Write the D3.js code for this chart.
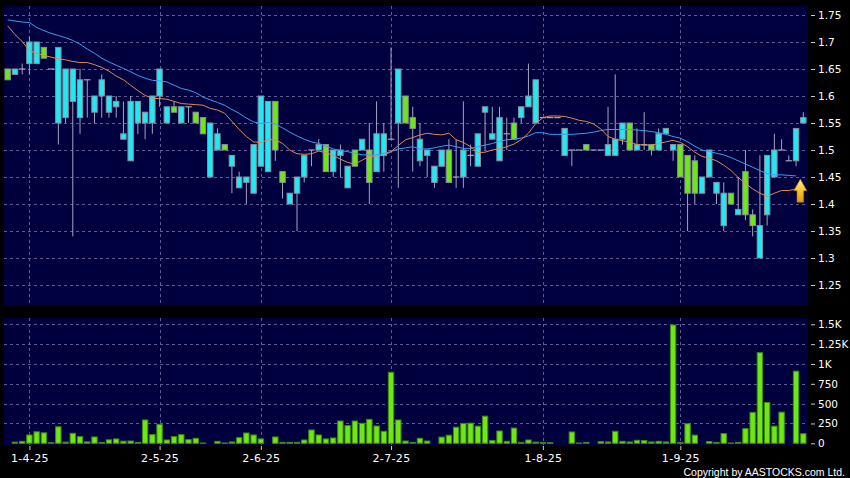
<!DOCTYPE html>
<html>
<head>
<meta charset="utf-8">
<script src="https://cdn.jsdelivr.net/npm/d3@7"></script>
<style>
  html, body { margin: 0; padding: 0; background: #000; }
  svg { display: block; }
</style>
</head>
<body>
<svg id="chart" width="850" height="478"></svg>
<script>
// daily candles, left to right (index 0 .. 110)
var opens = [1.65,1.64,1.65,1.66,1.66,1.69,1.65,1.55,1.56,1.59,
  1.56,1.63,1.57,1.60,1.57,1.58,1.52,1.48,1.55,1.55,
  1.55,1.60,1.55,1.58,1.55,1.58,1.57,1.56,1.45,1.50,
  1.51,1.47,1.43,1.44,1.42,1.47,1.46,1.59,1.46,1.40,
  1.42,1.45,1.50,1.50,1.51,1.46,1.49,1.43,1.50,1.50,
  1.50,1.46,1.49,1.52,1.55,1.60,1.56,1.48,1.49,1.44,
  1.47,1.50,1.45,1.45,1.49,1.47,1.57,1.52,1.48,1.53,
  1.55,1.56,1.58,1.55,1.56,1.56,1.56,1.49,1.50,1.50,
  1.51,1.50,1.50,1.49,1.49,1.52,1.55,1.50,1.51,1.51,
  1.50,1.53,1.50,1.51,1.49,1.48,1.42,1.45,1.42,1.36,
  1.42,1.38,1.46,1.38,1.30,1.38,1.45,1.50,1.48,1.48,
  1.55];
var highs = [1.65,1.65,1.66,1.71,1.70,1.69,1.65,1.69,1.65,1.65,
  1.65,1.63,1.60,1.64,1.60,1.60,1.59,1.60,1.59,1.57,
  1.60,1.65,1.58,1.59,1.58,1.58,1.57,1.56,1.55,1.54,
  1.51,1.49,1.46,1.45,1.51,1.60,1.59,1.59,1.46,1.42,
  1.45,1.49,1.50,1.52,1.51,1.50,1.51,1.47,1.50,1.52,
  1.55,1.59,1.55,1.69,1.65,1.60,1.58,1.55,1.50,1.47,
  1.50,1.52,1.52,1.59,1.51,1.53,1.58,1.58,1.58,1.56,
  1.56,1.58,1.66,1.63,1.56,1.56,1.56,1.54,1.50,1.50,
  1.51,1.50,1.50,1.58,1.64,1.55,1.55,1.54,1.57,1.51,
  1.54,1.54,1.51,1.51,1.49,1.49,1.45,1.50,1.44,1.44,
  1.42,1.45,1.50,1.39,1.49,1.49,1.53,1.52,1.49,1.54,
  1.57];
var lows = [1.63,1.64,1.64,1.64,1.66,1.67,1.65,1.51,1.55,1.34,
  1.53,1.56,1.55,1.56,1.56,1.56,1.52,1.48,1.53,1.52,
  1.53,1.58,1.55,1.57,1.55,1.55,1.55,1.53,1.45,1.50,
  1.50,1.42,1.43,1.40,1.42,1.47,1.46,1.48,1.41,1.40,
  1.35,1.44,1.47,1.50,1.46,1.45,1.45,1.43,1.47,1.50,
  1.40,1.46,1.46,1.52,1.43,1.55,1.46,1.47,1.45,1.43,
  1.47,1.44,1.43,1.43,1.47,1.47,1.50,1.52,1.48,1.50,
  1.52,1.55,1.58,1.55,1.56,1.56,1.56,1.49,1.47,1.50,
  1.50,1.50,1.50,1.49,1.49,1.51,1.50,1.50,1.50,1.49,
  1.50,1.53,1.48,1.45,1.35,1.40,1.42,1.45,1.40,1.35,
  1.40,1.38,1.37,1.34,1.30,1.36,1.45,1.50,1.48,1.47,
  1.55];
var closes = [1.63,1.65,1.65,1.70,1.70,1.67,1.65,1.69,1.65,1.65,
  1.63,1.63,1.60,1.63,1.60,1.59,1.53,1.59,1.59,1.57,
  1.60,1.65,1.58,1.57,1.58,1.58,1.55,1.53,1.55,1.53,
  1.50,1.49,1.45,1.45,1.51,1.60,1.59,1.50,1.44,1.42,
  1.45,1.49,1.50,1.51,1.46,1.50,1.50,1.47,1.47,1.52,
  1.44,1.53,1.53,1.52,1.65,1.55,1.54,1.52,1.50,1.47,
  1.50,1.44,1.45,1.50,1.49,1.53,1.58,1.53,1.56,1.53,
  1.52,1.58,1.60,1.63,1.56,1.56,1.56,1.54,1.50,1.50,
  1.50,1.50,1.50,1.51,1.52,1.55,1.50,1.51,1.51,1.50,
  1.53,1.54,1.51,1.45,1.42,1.42,1.45,1.50,1.44,1.42,
  1.40,1.39,1.38,1.36,1.36,1.49,1.50,1.50,1.48,1.54,
  1.56];
var volumes = [0,15,25,105,145,132,8,208,15,126,
  84,18,80,12,44,55,27,29,12,294,
  109,239,42,84,109,46,63,4,0,25,
  4,17,71,130,105,55,0,80,12,12,
  12,42,168,105,55,67,281,223,281,252,
  302,218,151,895,294,29,12,63,29,0,
  78,102,203,249,254,216,342,36,155,25,
  192,12,42,15,12,8,0,0,143,4,
  12,0,21,17,151,25,17,38,34,17,
  25,17,1491,12,246,103,0,23,12,122,
  4,12,185,390,1142,515,216,392,0,909,
  120];
// moving averages (blue = longer, orange = shorter)
var maLong = [1.741,1.739,1.737,1.736,1.727,1.721,1.716,1.712,1.708,1.703,
  1.696,1.687,1.679,1.670,1.663,1.657,1.651,1.645,1.638,1.633,
  1.629,1.628,1.626,1.620,1.614,1.611,1.606,1.598,1.593,1.588,
  1.583,1.575,1.568,1.559,1.552,1.549,1.551,1.548,1.541,1.533,
  1.526,1.520,1.515,1.512,1.507,1.502,1.499,1.497,1.494,1.491,
  1.491,1.491,1.494,1.497,1.502,1.504,1.506,1.502,1.502,1.504,
  1.507,1.509,1.506,1.503,1.503,1.506,1.509,1.512,1.516,1.519,
  1.520,1.522,1.526,1.532,1.532,1.529,1.529,1.529,1.529,1.530,
  1.531,1.533,1.536,1.538,1.538,1.538,1.538,1.537,1.536,1.534,
  1.532,1.529,1.525,1.522,1.515,1.507,1.500,1.497,1.494,1.491,
  1.486,1.480,1.474,1.468,1.462,1.456,1.454,1.454,1.453,1.452,
  null];
var maShort = [1.730,1.714,1.701,1.684,1.679,1.675,1.672,1.669,1.667,1.664,
  1.662,1.662,1.658,1.653,1.646,1.637,1.630,1.620,1.610,1.601,
  1.596,1.595,1.594,1.590,1.586,1.585,1.584,1.583,1.577,1.574,
  1.568,1.553,1.538,1.525,1.515,1.514,1.519,1.519,1.512,1.500,
  1.493,1.492,1.493,1.498,1.495,1.490,1.483,1.477,1.474,1.481,
  1.488,1.489,1.490,1.497,1.508,1.519,1.523,1.528,1.531,1.529,
  1.528,1.531,1.519,1.514,1.506,1.495,1.496,1.500,1.502,1.506,
  1.511,1.519,1.531,1.549,1.560,1.563,1.563,1.562,1.559,1.555,
  1.553,1.548,1.539,1.525,1.520,1.517,1.515,1.510,1.509,1.509,
  1.512,1.515,1.518,1.514,1.506,1.496,1.488,1.485,1.480,1.472,
  1.462,1.449,1.438,1.428,1.420,1.414,1.420,1.425,1.425,1.428,
  null];

var dateTickIdx = [3, 21, 35, 53, 74, 93];
var dateTickLabels = ["1-4-25", "2-5-25", "2-6-25", "2-7-25", "1-8-25", "1-9-25"];
var priceTicks = [1.25, 1.3, 1.35, 1.4, 1.45, 1.5, 1.55, 1.6, 1.65, 1.7, 1.75];
var volTicks = [0, 250, 500, 750, 1000, 1250, 1500];
var volTickLabels = ["0", "250", "500", "750", "1K", "1.25K", "1.5K"];

var UP_COLOR = "#22e8f2", DOWN_COLOR = "#6ee814", PANEL = "#00003e";
var GRID = "#5c5c96";

var svg = d3.select("#chart");
svg.append("rect").attr("width", 850).attr("height", 478).attr("fill", "#000");

// panels
var mainTop = 6, mainBottom = 306, volTop = 318, volBottom = 445, left = 4, right = 808;
svg.append("rect").attr("x", left).attr("y", mainTop).attr("width", right - left).attr("height", mainBottom - mainTop).attr("fill", PANEL);
svg.append("rect").attr("x", left).attr("y", volTop).attr("width", right - left).attr("height", volBottom - volTop).attr("fill", PANEL);

var x = d3.scaleLinear().domain([0, opens.length - 1]).range([7.7, 803.3]);
var y = d3.scaleLinear().domain([1.25, 1.75]).range([285, 15]);
var yv = d3.scaleLinear().domain([0, 1500]).range([443.3, 324.3]);

// grid lines
var grid = svg.append("g").attr("stroke", GRID).attr("stroke-dasharray", "3,3").attr("stroke-width", 1);
priceTicks.forEach(function(t) {
  grid.append("line").attr("x1", left).attr("x2", right)
    .attr("y1", Math.round(y(t)) + 0.5).attr("y2", Math.round(y(t)) + 0.5);
});
volTicks.slice(1).forEach(function(t) {
  grid.append("line").attr("x1", left).attr("x2", right)
    .attr("y1", Math.round(yv(t)) + 0.5).attr("y2", Math.round(yv(t)) + 0.5);
});
dateTickIdx.forEach(function(i) {
  var gx = Math.round(x(i)) + 0.5;
  grid.append("line").attr("x1", gx).attr("x2", gx).attr("y1", mainTop).attr("y2", mainBottom);
  grid.append("line").attr("x1", gx).attr("x2", gx).attr("y1", volTop).attr("y2", volBottom);
});

var bw = 5.4;

// candles
var candles = svg.append("g");
opens.forEach(function(o, i) {
  var c = closes[i], cx = x(i);
  candles.append("line")
    .attr("x1", cx).attr("x2", cx)
    .attr("y1", y(highs[i])).attr("y2", y(lows[i]))
    .attr("stroke", "#a4a4bc").attr("stroke-width", 1);
  if (o === c) {
    candles.append("line")
      .attr("x1", cx - bw / 2 - 0.5).attr("x2", cx + bw / 2 + 0.5)
      .attr("y1", y(c)).attr("y2", y(c))
      .attr("stroke", "#a4a4bc").attr("stroke-width", 1.2);
  } else {
    candles.append("rect")
      .attr("x", cx - bw / 2)
      .attr("y", y(Math.max(o, c)))
      .attr("width", bw)
      .attr("height", Math.abs(y(o) - y(c)))
      .attr("fill", c > o ? UP_COLOR : DOWN_COLOR)
      .attr("stroke", "#8a8fa0").attr("stroke-width", 1);
  }
});

// volume bars
svg.append("g").selectAll("rect").data(volumes).enter().append("rect")
  .attr("x", function(d, i) { return x(i) - bw / 2; })
  .attr("y", function(d) { return yv(d); })
  .attr("width", bw)
  .attr("height", function(d) { return yv(0) - yv(d); })
  .attr("fill", DOWN_COLOR)
  .attr("stroke", "#3f8a0c").attr("stroke-width", 1)
  .style("display", function(d) { return d > 0 ? null : "none"; });

// moving averages
var maLine = d3.line()
  .defined(function(d) { return d != null; })
  .x(function(d, i) { return x(i); })
  .y(function(d) { return y(d); });
svg.append("path").datum(maLong).attr("d", maLine)
  .attr("fill", "none").attr("stroke", "#3d9df0").attr("stroke-width", 1);
svg.append("path").datum(maShort).attr("d", maLine)
  .attr("fill", "none").attr("stroke", "#e5864e").attr("stroke-width", 1);

// yellow arrow at the last day
var defs = svg.append("defs");
var grad = defs.append("linearGradient").attr("id", "arrowGrad").attr("x1", 0).attr("y1", 0).attr("x2", 0).attr("y2", 1);
grad.append("stop").attr("offset", "0%").attr("stop-color", "#fff0a0");
grad.append("stop").attr("offset", "45%").attr("stop-color", "#ffc83a");
grad.append("stop").attr("offset", "100%").attr("stop-color", "#d89a10");
var ax = x(opens.length - 1) - 3, ay = y(1.446);
svg.append("path")
  .attr("d", "M" + ax + "," + ay + " L" + (ax + 6.5) + "," + (ay + 11.5) + " L" + (ax + 3.3) + "," + (ay + 11.5) +
    " L" + (ax + 3.3) + "," + (ay + 23) + " L" + (ax - 3.3) + "," + (ay + 23) + " L" + (ax - 3.3) + "," + (ay + 11.5) +
    " L" + (ax - 6.5) + "," + (ay + 11.5) + " Z")
  .attr("fill", "url(#arrowGrad)").attr("stroke", "#b07a00").attr("stroke-width", 0.6);

// axes
function styleAxis(g) {
  g.select(".domain").remove();
  g.selectAll(".tick line").attr("stroke", "#c8c8c8");
  g.selectAll(".tick text").attr("fill", "#fff")
    .style("font-family", "'DejaVu Sans', Verdana, sans-serif").style("font-size", "10.5px");
}
var priceAxis = d3.axisRight(y).tickValues(priceTicks).tickSize(4).tickPadding(3)
  .tickFormat(function(d) { return d3.format("")(+d.toFixed(2)); });
svg.append("g").attr("transform", "translate(811,0)").call(priceAxis).call(styleAxis);

var volAxis = d3.axisRight(yv).tickValues(volTicks).tickSize(4).tickPadding(3)
  .tickFormat(function(d, i) { return volTickLabels[i]; });
svg.append("g").attr("transform", "translate(811,0)").call(volAxis).call(styleAxis);

var dateAxis = d3.axisBottom(x).tickValues(dateTickIdx).tickSize(4).tickPadding(4)
  .tickFormat(function(d, i) { return dateTickLabels[i]; });
svg.append("g").attr("transform", "translate(0,446)").call(dateAxis).call(styleAxis)
  .selectAll(".tick text").style("font-size", "11px").style("letter-spacing", "0.35px");

svg.append("text").attr("x", 845).attr("y", 476).attr("text-anchor", "end")
  .attr("fill", "#fff").style("font-family", "'Liberation Sans', Arial, sans-serif").style("font-size", "10.5px")
  .text("Copyright by AASTOCKS.com Ltd.");
</script>
</body>
</html>
